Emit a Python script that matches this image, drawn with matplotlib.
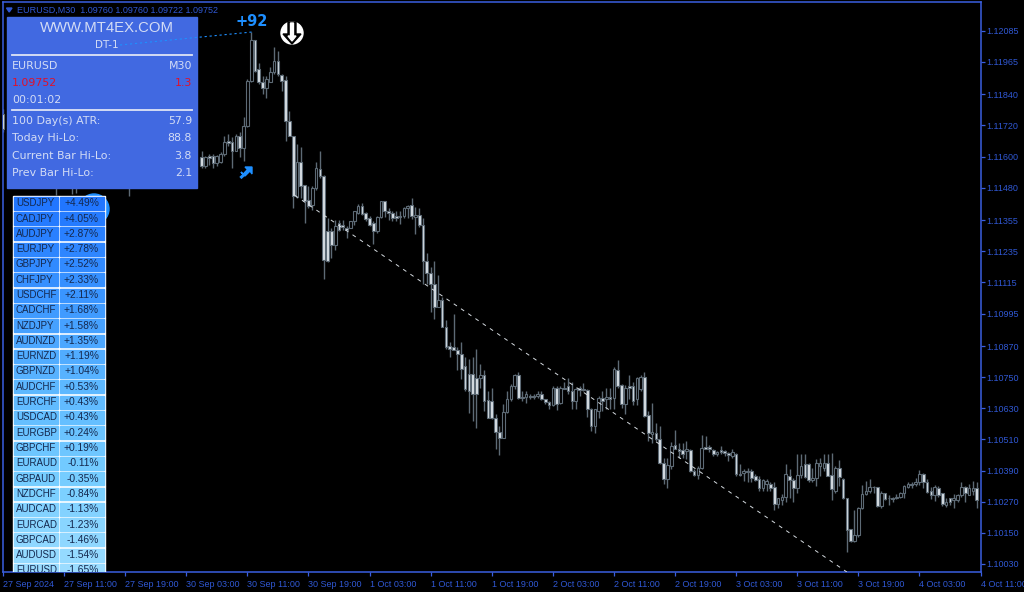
import numpy as np
import matplotlib
matplotlib.use("Agg")
import matplotlib.pyplot as plt
from matplotlib.patches import Rectangle, Circle, Polygon
from matplotlib.colors import LinearSegmentedColormap

# price in points above 1.10000
first_bar = 52
opens = [1600,1562,1604,1604,1574,1581,1612,1662,1658,1623,1681,1635,1719,1891,2051,1937,1887,1864,1887,1925,1967,1914,1895,1738,1681,1444,1578,1490,1432,1413,1478,1551,1524,1314,1314,1260,1344,1337,1325,1325,1352,1383,1409,1383,1364,1344,1314,1367,1429,1390,1383,1371,1371,1371,1402,1413,1367,1375,1337,1196,1150,1108,1020,1047,943,871,867,856,840,794,764,764,745,745,760,661,657,592,539,516,615,665,714,760,672,672,676,676,676,687,665,653,642,707,649,710,714,695,657,707,703,699,626,561,619,668,665,672,668,779,718,645,714,714,665,703,749,603,531,535,512,420,359,409,489,474,470,466,470,390,374,401,481,481,470,454,470,466,458,447,454,378,382,390,390,370,359,321,340,340,325,260,275,290,370,355,321,374,416,416,355,363,409,401,420,374,313,401,359,283,164,118,141,244,298,313,325,325,252,302,286,286,283,290,302,328,340,340,344,378,344,313,294,321,302,256,286,275,275,294,328,294,313,321]
closes = [1562,1600,1593,1574,1604,1612,1658,1654,1623,1681,1635,1719,1891,2051,1929,1887,1864,1898,1925,1967,1918,1891,1738,1681,1448,1578,1486,1429,1409,1478,1555,1524,1203,1199,1260,1333,1318,1329,1318,1352,1390,1409,1379,1360,1337,1314,1367,1429,1390,1383,1364,1364,1367,1402,1409,1371,1375,1337,1199,1150,1108,1020,1047,943,867,859,856,840,783,703,695,687,687,760,657,592,592,539,516,615,665,714,760,668,668,684,672,672,687,665,653,642,707,645,707,703,695,657,703,699,699,626,561,626,668,657,672,665,783,714,645,710,710,657,745,749,600,535,539,512,420,359,412,485,474,466,454,474,390,374,401,477,474,474,454,462,462,458,451,462,378,374,390,386,363,355,321,355,351,321,260,283,290,378,355,321,374,409,367,355,363,420,420,420,370,317,401,367,283,160,118,141,244,298,313,325,328,252,302,279,283,279,290,305,332,340,336,347,378,344,309,294,325,294,260,267,267,286,294,328,302,321,321,275]
highs = [1620,1604,1612,1612,1608,1616,1681,1688,1677,1688,1696,1753,1898,2082,2051,1960,1910,1910,1944,2024,2009,1918,1910,1776,1681,1650,1639,1490,1486,1486,1578,1623,1528,1364,1325,1356,1356,1356,1333,1352,1390,1417,1421,1387,1371,1352,1371,1429,1429,1402,1390,1390,1390,1406,1413,1440,1406,1402,1364,1230,1173,1196,1142,1058,970,886,993,867,886,829,821,829,859,802,779,695,710,607,561,645,695,722,764,768,695,695,687,687,695,695,665,657,714,714,714,733,745,733,707,714,729,703,630,626,676,695,707,707,791,817,722,718,760,733,749,760,768,619,649,573,561,439,439,500,546,496,496,504,474,397,409,527,523,489,474,466,485,470,462,474,458,416,397,401,397,378,370,359,359,347,344,286,298,416,397,363,454,454,454,420,401,435,439,454,454,458,409,432,363,283,164,237,248,336,351,359,332,325,313,305,294,290,298,309,336,347,347,363,393,382,359,325,336,332,305,286,286,298,298,347,332,340,351,344]
lows = [1555,1555,1566,1555,1562,1574,1604,1642,1555,1620,1600,1585,1715,1887,1925,1879,1841,1826,1887,1918,1910,1853,1662,1681,1402,1440,1440,1344,1402,1394,1471,1516,1127,1192,1211,1241,1314,1318,1287,1325,1337,1379,1375,1352,1333,1264,1306,1364,1367,1356,1352,1352,1341,1364,1364,1360,1302,1329,1108,1108,1001,974,1020,943,859,829,856,779,741,695,611,581,554,707,619,592,588,474,451,516,611,657,703,665,657,649,665,665,668,661,645,626,638,623,645,703,687,626,626,676,695,596,542,535,592,619,626,626,626,707,630,607,665,642,642,695,596,504,496,504,416,340,321,397,474,439,439,435,386,370,359,397,474,462,447,447,454,447,428,439,370,370,351,344,344,351,313,313,313,313,237,244,256,267,286,267,302,363,363,344,344,332,370,390,370,275,305,332,279,76,114,114,134,240,294,305,305,248,244,275,256,267,279,286,286,321,321,332,336,321,305,279,271,290,252,248,256,244,267,290,267,294,294,244]

# bars that only show a little around the info panel
side_bars = [0, 14, 18, 19, 33]
side_opens = [1765, 1535, 1516, 1560, 1545]
side_closes = [1707, 1497, 1555, 1520, 1510]
side_highs = [1784, 1555, 1590, 1600, 1590]
side_lows = [1696, 1451, 1455, 1459, 1448]

n_bars = 256
date_labels = ["27 Sep 2024", "27 Sep 11:00", "27 Sep 19:00", "30 Sep 03:00", "30 Sep 11:00", "30 Sep 19:00",
               "1 Oct 03:00", "1 Oct 11:00", "1 Oct 19:00", "2 Oct 03:00", "2 Oct 11:00", "2 Oct 19:00",
               "3 Oct 03:00", "3 Oct 11:00", "3 Oct 19:00", "4 Oct 03:00", "4 Oct 11:00"]
price_ticks = [1.12085, 1.11965, 1.11840, 1.11720, 1.11600, 1.11480, 1.11355, 1.11235, 1.11115,
               1.10995, 1.10870, 1.10750, 1.10630, 1.10510, 1.10390, 1.10270, 1.10150, 1.10030]
pairs = ["USDJPY", "CADJPY", "AUDJPY", "EURJPY", "GBPJPY", "CHFJPY", "USDCHF", "CADCHF", "NZDJPY", "AUDNZD",
         "EURNZD", "GBPNZD", "AUDCHF", "EURCHF", "USDCAD", "EURGBP", "GBPCHF", "EURAUD", "GBPAUD", "NZDCHF",
         "AUDCAD", "EURCAD", "GBPCAD", "AUDUSD", "EURUSD"]
changes = ["+4.49%", "+4.05%", "+2.87%", "+2.78%", "+2.52%", "+2.33%", "+2.11%", "+1.68%", "+1.58%", "+1.35%",
           "+1.19%", "+1.04%", "+0.53%", "+0.43%", "+0.43%", "+0.24%", "+0.19%", "-0.11%", "-0.35%", "-0.84%",
           "-1.13%", "-1.23%", "-1.46%", "-1.54%", "-1.65%"]
panel_left = ["EURUSD", "1.09752", "00:01:02", "100 Day(s) ATR:", "Today Hi-Lo:", "Current Bar Hi-Lo:", "Prev Bar Hi-Lo:"]
panel_right = ["M30", "1.3", "", "57.9", "88.8", "3.8", "2.1"]
panel_y = [66, 83, 100, 121, 138, 156, 173]

for name, vals in [("opens", opens), ("closes", closes), ("highs", highs), ("lows", lows)]:
    assert len(vals) == n_bars - first_bar, (name, len(vals))

blue = "#3a5fe0"
label_blue = "#3058d4"
wick_col = "#5d6a75"
body_col = "#d8dfe5"
axis_font = "Liberation Sans"

W, H = 1024, 592
fig = plt.figure(figsize=(W / 100, H / 100), dpi=100, facecolor="black")
rect = [2.5 / W, 1 - 572 / H, 978 / W, 570 / H]
ax = fig.add_axes(rect, facecolor="black")


def to_price(points):
    return 1.1 + np.array(points) * 1e-5


def draw_candles(x, o, c, hi, lo):
    o, c = to_price(o), to_price(c)
    ax.vlines(x, to_price(lo), to_price(hi), color=wick_col, lw=1, zorder=2)
    up = c >= o
    ax.bar(x, np.abs(c - o), bottom=np.minimum(o, c), width=0.7, linewidth=0.8, edgecolor=wick_col,
           color=["black" if u else body_col for u in up], zorder=3)


draw_candles(np.arange(first_bar, n_bars), opens, closes, highs, lows)
draw_candles(np.array(side_bars), side_opens, side_closes, side_highs, side_lows)

# trend line
ax.plot([76.4, 221], to_price([1451, -1]), color="#d5dbe0", lw=0.7, ls=(0, (4, 5)), zorder=4)

ax.set_xlim(-0.13, 255.9)
ax.set_ylim(1.1 - 0.00001, 1.1 + 0.02196)
for s in ax.spines.values():
    s.set_color(blue)
    s.set_linewidth(1.1)
ax.yaxis.tick_right()
ax.set_yticks(price_ticks)
ax.set_yticklabels([f"{p:.5f}" for p in price_ticks], family=axis_font)
ax.set_xticks(np.arange(len(date_labels)) * 16)
ax.set_xticklabels(date_labels, ha="left", family=axis_font)
ax.tick_params(axis="y", colors=blue, labelcolor=label_blue, labelsize=6.5, length=3, width=0.9, pad=1)
ax.tick_params(axis="x", colors=blue, labelcolor=label_blue, labelsize=6.5, length=3, width=0.9, pad=2.5)

ax.text(17 / W, 1 - 10 / H, "EURUSD,M30  1.09760 1.09760 1.09722 1.09752", transform=fig.transFigure,
        color=label_blue, fontsize=6.5, family=axis_font, va="center", ha="left")
fig.add_artist(Polygon([[6.5 / W, 1 - 8 / H], [12 / W, 1 - 8 / H], [9.2 / W, 1 - 12 / H]],
                       closed=True, color=label_blue, transform=fig.transFigure))

# overlay in screen pixels for panel, table and icons
ov = fig.add_axes(rect, facecolor="none", zorder=5)
ov.set_xlim(2.5, 980.5)
ov.set_ylim(572, 2)
ov.axis("off")

ov.add_patch(Circle((94, 209), 15, color="#1e8fff", zorder=1))
ov.add_patch(Rectangle((7, 17), 190, 171, color="#4169e1", zorder=2))
txt_col = "#d3dcf5"
ov.text(107, 28, "WWW.MT4EX.COM", color=txt_col, fontsize=10.7, ha="center", va="center", family="Liberation Sans", zorder=3)
ov.text(107, 45, "DT-1", color=txt_col, fontsize=7.5, ha="center", va="center", zorder=3)
ov.plot([12, 192], [55, 55], color="#dfe5f5", lw=1.3, zorder=3)
ov.plot([12, 192], [110, 110], color="#dfe5f5", lw=1.3, zorder=3)
for i in range(len(panel_left)):
    c = "#e0102a" if i == 1 else txt_col
    ov.text(12, panel_y[i], panel_left[i], color=c, fontsize=7.9, ha="left", va="center", zorder=3)
    ov.text(192, panel_y[i], panel_right[i], color=c, fontsize=7.9, ha="right", va="center", zorder=3)

# dotted line to the high and its label
ov.plot([120, 252], [45, 32], color="#1e8fff", lw=0.8, ls=(0, (2, 2.5)), zorder=4)
ov.text(252, 21, "+92", color="#1e8fff", fontsize=10.5, fontweight="bold", ha="center", va="center", zorder=4)

# sell arrow icon
ov.add_patch(Circle((292, 33), 11, color="white", zorder=4))
ov.add_patch(Polygon([[288, 22], [296, 22], [296, 34], [301, 34], [292, 44], [283, 34], [288, 34]],
                     closed=True, color="black", zorder=5))
ov.add_patch(Polygon([[290.5, 23], [293.5, 23], [293.5, 36], [296, 36], [292, 41], [288, 36], [290.5, 36]],
                     closed=True, color="white", zorder=6))

# buy arrow
ov.add_patch(Polygon([[241, 172], [245, 176], [250, 171], [252, 174], [252, 167], [245, 167], [247.5, 169.5], [243, 174.5]],
                     closed=True, color="#1e8fff", zorder=4))
ov.plot([241.5, 250], [177, 169], color="#1e8fff", lw=2.2, zorder=4)

# pair table
cmap = LinearSegmentedColormap.from_list("tbl", ["#2176ff", "#3a95ff", "#5db8ff", "#76cdff", "#9bdcff"])
row_h = 15.3
for i in range(len(pairs)):
    y0 = 196 + i * row_h
    c = cmap(i / (len(pairs) - 1))
    ov.add_patch(Rectangle((12.5, y0 - 0.5), 92, row_h, color="white", zorder=7))
    ov.add_patch(Rectangle((13.5, y0 + 0.8), 44, row_h - 2.4, color=c, zorder=8))
    ov.add_patch(Rectangle((59.5, y0 + 0.8), 44, row_h - 2.4, color=c, zorder=8))
    ov.text(16, y0 + 7.2, pairs[i], color="#15294f", fontsize=7, family="Liberation Sans", ha="left", va="center", zorder=9, clip_on=True)
    ov.text(99, y0 + 7.2, changes[i], color="#15294f", fontsize=7.4, family="Liberation Sans", ha="right", va="center", zorder=9, clip_on=True)

fig.savefig("out.png", dpi=100, facecolor="black")
